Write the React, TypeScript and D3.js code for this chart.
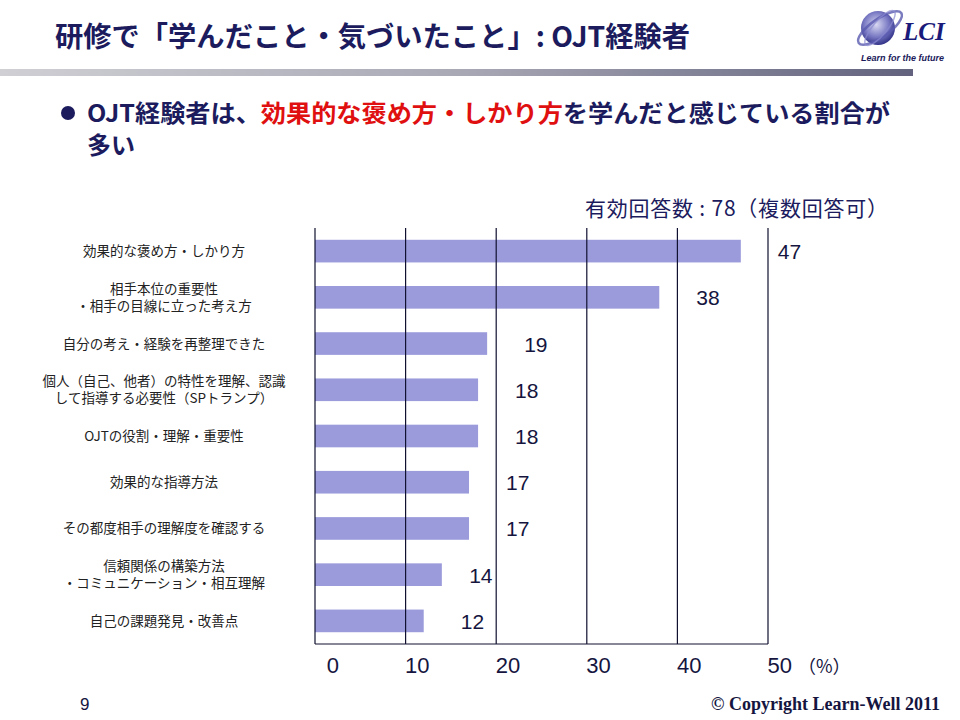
import React from "react";
import * as d3 from "d3";

const categories: string[][] = [
  ["効果的な褒め方・しかり方"],
  ["相手本位の重要性", "・相手の目線に立った考え方"],
  ["自分の考え・経験を再整理できた"],
  ["個人（自己、他者）の特性を理解、認識", "して指導する必要性（SPトランプ）"],
  ["OJTの役割・理解・重要性"],
  ["効果的な指導方法"],
  ["その都度相手の理解度を確認する"],
  ["信頼関係の構築方法", "・コミュニケーション・相互理解"],
  ["自己の課題発見・改善点"],
];
const values: number[] = [47, 38, 19, 18, 18, 17, 17, 14, 12];
const tickValues: number[] = [0, 10, 20, 30, 40, 50];
const gridValues: number[] = [10, 20, 30, 40, 50];

const titleText = "研修で「学んだこと・気づいたこと」: OJT経験者";
const bulletParts = [
  { t: "OJT経験者は、", red: false },
  { t: "効果的な褒め方・しかり方", red: true },
  { t: "を学んだと感じている割合が", red: false },
];
const bulletLine2 = "多い";
const noteText = "有効回答数 : 78（複数回答可）";

const JP = "'Noto Sans CJK JP', 'Noto Sans', sans-serif";
const NUM = "'Liberation Sans', Arial, sans-serif";
const NAVY = "#1b1b5e";

export default function App() {
  const x = d3.scaleLinear().domain([0, 50]).range([315, 768]);
  const idx = categories.map((_, i) => String(i));
  const y = d3.scaleBand().domain(idx).range([228, 644]).paddingInner(0.51).paddingOuter(0.255);
  const bw = y.bandwidth();

  const labelX = (v: number) => {
    let pos = x(v) + 37;
    const w = 24;
    for (const g of gridValues) {
      const gx = x(g);
      if (pos < gx && pos + w > gx) pos = gx - w - 3;
    }
    return pos;
  };

  return (
    <svg width={960} height={720} style={{ position: "absolute", left: 0, top: 0, background: "#fff" }}>
      <defs>
        <linearGradient id="hbar" x1="0" x2="1" y1="0" y2="0">
          <stop offset="0" stopColor="#cfcfd4" />
          <stop offset="0.5" stopColor="#a9a9b6" />
          <stop offset="1" stopColor="#62627e" />
        </linearGradient>
        <radialGradient id="sphere" cx="0.45" cy="0.4" r="0.6">
          <stop offset="0" stopColor="#d9d9f2" />
          <stop offset="0.6" stopColor="#7a7ac4" />
          <stop offset="1" stopColor="#34348a" />
        </radialGradient>
      </defs>

      {/* Title */}
      <text x={55} y={47} fontFamily={JP} fontWeight={700} fontSize={28} fill={NAVY}
        textLength={635} lengthAdjust="spacingAndGlyphs">
        {titleText}
      </text>
      <rect x={0} y={69} width={913} height={7} fill="url(#hbar)" />

      {/* Logo */}
      <g>
        <circle cx={878} cy={28} r={17} fill="url(#sphere)" />
        <ellipse cx={880} cy={28} rx={26} ry={9} fill="none" stroke="#5a5ab0" strokeWidth={2.5}
          transform="rotate(-35 880 28)" opacity={0.8} />
        <ellipse cx={880} cy={28} rx={22} ry={7} fill="none" stroke="#8a8ad0" strokeWidth={1.5}
          transform="rotate(-50 880 28)" opacity={0.7} />
        <text x={903} y={40} fontFamily="'Liberation Serif', serif" fontStyle="italic" fontWeight={700}
          fontSize={25} fill="#1a1a7a">LCI</text>
        <text x={861} y={61} fontFamily={NUM} fontStyle="italic" fontWeight={700} fontSize={9}
          fill="#1a1a5a">Learn for the future</text>
      </g>

      {/* Bullet */}
      <circle cx={68} cy={113} r={7} fill={NAVY} />
      <text x={87} y={122} fontFamily={JP} fontWeight={700} fontSize={24} fill={NAVY}
        textLength={803} lengthAdjust="spacingAndGlyphs">
        {bulletParts.map((p, i) => (
          <tspan key={i} fill={p.red ? "#e01010" : NAVY}>{p.t}</tspan>
        ))}
      </text>
      <text x={87} y={154} fontFamily={JP} fontWeight={700} fontSize={24} fill={NAVY}>
        {bulletLine2}
      </text>

      {/* Note */}
      <text x={585} y={216} fontFamily={JP} fontSize={21} fill={NAVY} textLength={303} lengthAdjust="spacing">
        {noteText}
      </text>

      {/* Bars */}
      {values.map((v, i) => (
        <rect key={"b" + i} x={x(0)} y={y(String(i))!} width={x(v) - x(0)} height={bw} fill="#9b9bdc" />
      ))}

      {/* Grid + frame */}
      {gridValues.map((g) => (
        <line key={"g" + g} x1={x(g)} x2={x(g)} y1={228} y2={644} stroke="#101030" strokeWidth={1.2} />
      ))}
      <line x1={x(0)} x2={x(0)} y1={228} y2={644} stroke="#101030" strokeWidth={1.2} />
      <line x1={x(0)} x2={x(50)} y1={644} y2={644} stroke="#101030" strokeWidth={1.2} />

      {/* Value labels */}
      {values.map((v, i) => (
        <text key={"v" + i} x={labelX(v)} y={y(String(i))! + bw / 2 + 8} fontFamily={NUM} fontSize={21}
          fill="#151540">{v}</text>
      ))}

      {/* Category labels */}
      {categories.map((lines, i) => {
        const cy = y(String(i))! + bw / 2;
        const n = lines.length;
        return (
          <text key={"c" + i} textAnchor="middle" fontFamily={JP} fontSize={13.5} fill="#222">
            {lines.map((l, j) => (
              <tspan key={j} x={164} y={cy + (j - (n - 1) / 2) * 17 + 5}>{l}</tspan>
            ))}
          </text>
        );
      })}

      {/* X tick labels */}
      {tickValues.map((t) => (
        <text key={"t" + t} x={x(t) + 24} y={673} textAnchor="end" fontFamily={NUM} fontSize={22} fill="#151540">
          {t}
        </text>
      ))}
      <text x={798} y={673} fontFamily={JP} fontSize={18} fill="#151540">（%）</text>

      {/* Footer */}
      <text x={80} y={710} fontFamily={NUM} fontSize={17} fill="#151540">9</text>
      <text x={940} y={710} textAnchor="end" fontFamily="'Liberation Serif', serif" fontWeight={700}
        fontSize={18} fill="#151540">© Copyright Learn-Well 2011</text>
    </svg>
  );
}
